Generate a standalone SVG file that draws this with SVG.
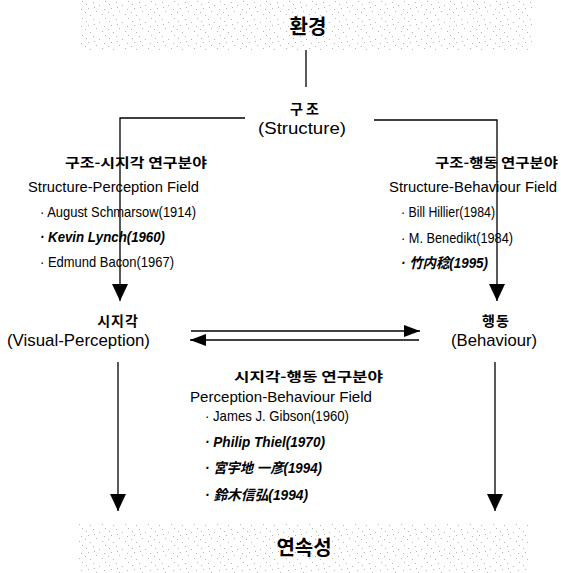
<svg xmlns="http://www.w3.org/2000/svg" width="561" height="573" viewBox="0 0 561 573">
<defs>
<pattern id="stip" width="23" height="17" patternUnits="userSpaceOnUse">
<rect width="23" height="17" fill="#fff"/>
<g fill="#b4b4b4">
<rect x="1" y="2" width="1" height="1"/><rect x="7" y="5" width="1" height="1"/><rect x="13" y="1" width="1" height="1"/>
<rect x="19" y="8" width="1" height="1"/><rect x="4" y="11" width="1" height="1"/><rect x="10" y="14" width="1" height="1"/>
<rect x="16" y="12" width="1" height="1"/><rect x="21" y="15" width="1" height="1"/><rect x="2" y="7" width="1" height="1"/>
<rect x="12" y="9" width="1" height="1"/><rect x="17" y="4" width="1" height="1"/>
</g>
</pattern>
<marker id="ad" viewBox="0 -8 17 16" markerWidth="17" markerHeight="16" refX="17" refY="0" orient="auto" markerUnits="userSpaceOnUse">
<path d="M0,-8 L17,0 L0,8 z" fill="#000"/>
</marker>
<marker id="ah" viewBox="0 -6 16 12" markerWidth="16" markerHeight="12" refX="16" refY="0" orient="auto" markerUnits="userSpaceOnUse">
<path d="M0,-6 L16,0 L0,6 z" fill="#000"/>
</marker>
</defs>
<style>
.ko{font-family:"Noto Sans CJK KR",sans-serif;font-weight:bold;fill:#000}
.la{font-family:"Liberation Sans",Arial,sans-serif;fill:#000}
.it{font-family:"Liberation Sans","Noto Sans CJK JP",sans-serif;font-style:italic;font-weight:bold;fill:#000}
.ln{fill:none;stroke:#000;stroke-width:1.3}
</style>
<rect width="561" height="573" fill="#fff"/>

<g id="env">
<rect x="80" y="0" width="452" height="50" fill="url(#stip)"/>
<text class="ko" x="308" y="34" font-size="20" text-anchor="middle">환경</text>
</g>

<g id="structure">
<text class="ko" x="306" y="114" font-size="14" text-anchor="middle" letter-spacing="3">구조</text>
<text class="la" x="258" y="134" font-size="17" textLength="88" lengthAdjust="spacingAndGlyphs">(Structure)</text>
</g>

<g id="field-sp">
<text class="ko" x="65" y="167" font-size="13" textLength="142" lengthAdjust="spacingAndGlyphs">구조-시지각 연구분야</text>
<text class="la" x="28" y="192" font-size="15" textLength="171" lengthAdjust="spacingAndGlyphs">Structure-Perception Field</text>
<text class="la" x="40" y="217" font-size="15" textLength="156" lengthAdjust="spacingAndGlyphs">· August Schmarsow(1914)</text>
<text class="it" x="40" y="242" font-size="14" textLength="125" lengthAdjust="spacingAndGlyphs">· Kevin Lynch(1960)</text>
<text class="la" x="40" y="267" font-size="15" textLength="134" lengthAdjust="spacingAndGlyphs">· Edmund Bacon(1967)</text>
</g>

<g id="field-sb">
<text class="ko" x="435" y="167" font-size="13" textLength="123" lengthAdjust="spacingAndGlyphs">구조-행동 연구분야</text>
<text class="la" x="389" y="192" font-size="15" textLength="168" lengthAdjust="spacingAndGlyphs">Structure-Behaviour Field</text>
<text class="la" x="401" y="217" font-size="15" textLength="94" lengthAdjust="spacingAndGlyphs">· Bill Hillier(1984)</text>
<text class="la" x="401" y="243" font-size="15" textLength="112" lengthAdjust="spacingAndGlyphs">· M. Benedikt(1984)</text>
<text class="it" x="401" y="268" font-size="14" textLength="87" lengthAdjust="spacingAndGlyphs">· 竹内稔(1995)</text>
</g>

<g id="perception">
<text class="ko" x="118" y="326" font-size="14" text-anchor="middle" letter-spacing="1">시지각</text>
<text class="la" x="7" y="346" font-size="17" textLength="143" lengthAdjust="spacingAndGlyphs">(Visual-Perception)</text>
</g>

<g id="behaviour">
<text class="ko" x="496" y="326" font-size="14" text-anchor="middle" letter-spacing="1">행동</text>
<text class="la" x="451" y="346" font-size="17" textLength="86" lengthAdjust="spacingAndGlyphs">(Behaviour)</text>
</g>

<g id="field-pb">
<text class="ko" x="234" y="381" font-size="13" textLength="149" lengthAdjust="spacingAndGlyphs">시지각-행동 연구분야</text>
<text class="la" x="190" y="402" font-size="15" textLength="182" lengthAdjust="spacingAndGlyphs">Perception-Behaviour Field</text>
<text class="la" x="205" y="421" font-size="15" textLength="144" lengthAdjust="spacingAndGlyphs">· James J. Gibson(1960)</text>
<text class="it" x="205" y="447" font-size="14" textLength="120" lengthAdjust="spacingAndGlyphs">· Philip Thiel(1970)</text>
<text class="it" x="205" y="473" font-size="14" textLength="117" lengthAdjust="spacingAndGlyphs">· 宮宇地 一彦(1994)</text>
<text class="it" x="205" y="500" font-size="14" textLength="103" lengthAdjust="spacingAndGlyphs">· 鈴木信弘(1994)</text>
</g>

<g id="continuity">
<rect x="77" y="523" width="453" height="50" fill="url(#stip)"/>
<text class="ko" x="304" y="555" font-size="20" text-anchor="middle">연속성</text>
</g>

<g id="connectors">
<path class="ln" d="M306,50 V87"/>
<path class="ln" d="M245,118 H120 V301" marker-end="url(#ad)"/>
<path class="ln" d="M374,120 H497 V301" marker-end="url(#ad)"/>
<path class="ln" d="M191,331 H420" marker-end="url(#ah)"/>
<path class="ln" d="M419,340 H190" marker-end="url(#ah)"/>
<path class="ln" d="M118,362 V511" marker-end="url(#ad)"/>
<path class="ln" d="M495,362 V511" marker-end="url(#ad)"/>
</g>
</svg>
